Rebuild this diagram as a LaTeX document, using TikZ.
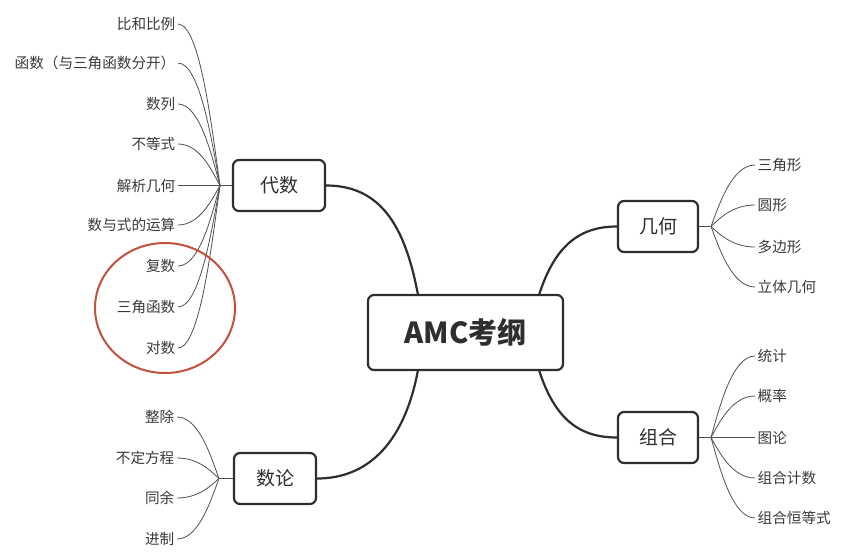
\documentclass[tikz,border=0pt]{standalone}
\usepackage{fontspec}
\newfontfamily\cjk{Noto Sans CJK SC}
\begin{document}
\begin{tikzpicture}[x=1pt,y=-1pt,
  box/.style={draw=boxc, line width=2.2pt, rounded corners=6pt, fill=white, font=\cjk\fontsize{19}{19}\selectfont, text=boxc, inner sep=0pt},
  leafl/.style={anchor=east, inner sep=2.5pt, font=\cjk\fontsize{14.6}{15}\selectfont, text=leafc},
  leafr/.style={anchor=west, inner sep=2.5pt, font=\cjk\fontsize{14.6}{15}\selectfont, text=leafc},
  thick link/.style={draw=boxc, line width=2.2pt},
  thin link/.style={draw=linkc, line width=0.8pt}]
\definecolor{boxc}{HTML}{2E2E2E}
\definecolor{leafc}{HTML}{3A3A3A}
\definecolor{linkc}{HTML}{505050}
\definecolor{redc}{HTML}{C2503C}
\useasboundingbox (0,0) rectangle (843,557);
\fill[white] (0,0) rectangle (843,557);

% main nodes
\node[box, minimum width=195pt, minimum height=75pt, font=\cjk\bfseries\fontsize{29}{29}\selectfont] (amc) at (465.5,332.5) {AMC考纲};
\node[box, minimum width=92pt, minimum height=51pt] (ds) at (279,185.5) {代数};
\node[box, minimum width=82pt, minimum height=51pt] (sl) at (275,478.5) {数论};
\node[box, minimum width=80pt, minimum height=51pt] (jh) at (658,226.5) {几何};
\node[box, minimum width=80pt, minimum height=51pt] (zh) at (658,437.5) {组合};

% main connectors
\coordinate (amcA) at (418,295);
\coordinate (amcB) at (539,295);
\coordinate (amcC) at (418,370);
\coordinate (amcD) at (539,370);
\draw[thick link] (amcA) .. controls (405,225) and (380,185.5) .. (ds.east);
\draw[thick link] (amcB) .. controls (555,245) and (580,226.5) .. (jh.west);
\draw[thick link] (amcC) .. controls (405,440) and (370,478.5) .. (sl.east);
\draw[thick link] (amcD) .. controls (555,420) and (580,437.5) .. (zh.west);

% junctions
\coordinate (jds) at (220,185.5);
\coordinate (jsl) at (219,478.5);
\coordinate (jjh) at (711,226.5);
\coordinate (jzh) at (711,437.5);
\draw[thin link] (ds.west) -- (jds);
\draw[thin link] (sl.west) -- (jsl);
\draw[thin link] (jh.east) -- (jjh);
\draw[thin link] (zh.east) -- (jzh);

% algebra leaves
\foreach \n/\y/\t in {a1/24/比和比例, a2/63/函数（与三角函数分开）, a3/104/数列, a4/144/不等式, a5/185.5/解析几何, a6/225/数与式的运算, a7/266/复数, a8/307/三角函数, a9/348/对数}{
  \node[leafl] (\n) at (178,\y) {\t};
  \draw[thin link] (\n.east) .. controls (200,\y) and (212,{185.5+0.35*(\y-185.5)}) .. (jds);
}
% number theory leaves
\foreach \n/\y/\t in {b1/417/整除, b2/458/不定方程, b3/498/同余, b4/539/进制}{
  \node[leafl] (\n) at (177,\y) {\t};
  \draw[thin link] (\n.east) .. controls (199,\y) and (211,{478.5+0.35*(\y-478.5)}) .. (jsl);
}
% geometry leaves
\foreach \n/\y/\t in {c1/165/三角形, c2/205/圆形, c3/247/多边形, c4/287/立体几何}{
  \node[leafr] (\n) at (755,\y) {\t};
  \draw[thin link] (jjh) .. controls (719,{226.5+0.35*(\y-226.5)}) and (732,\y) .. (\n.west);
}
% combinatorics leaves
\foreach \n/\y/\t in {d1/356/统计, d2/396/概率, d3/437.5/图论, d4/478/组合计数, d5/518/组合恒等式}{
  \node[leafr] (\n) at (755,\y) {\t};
  \draw[thin link] (jzh) .. controls (719,{437.5+0.35*(\y-437.5)}) and (732,\y) .. (\n.west);
}

% red highlight
\draw[redc, line width=2pt] (165,308) ellipse [x radius=70pt, y radius=65pt];
\end{tikzpicture}
\end{document}
